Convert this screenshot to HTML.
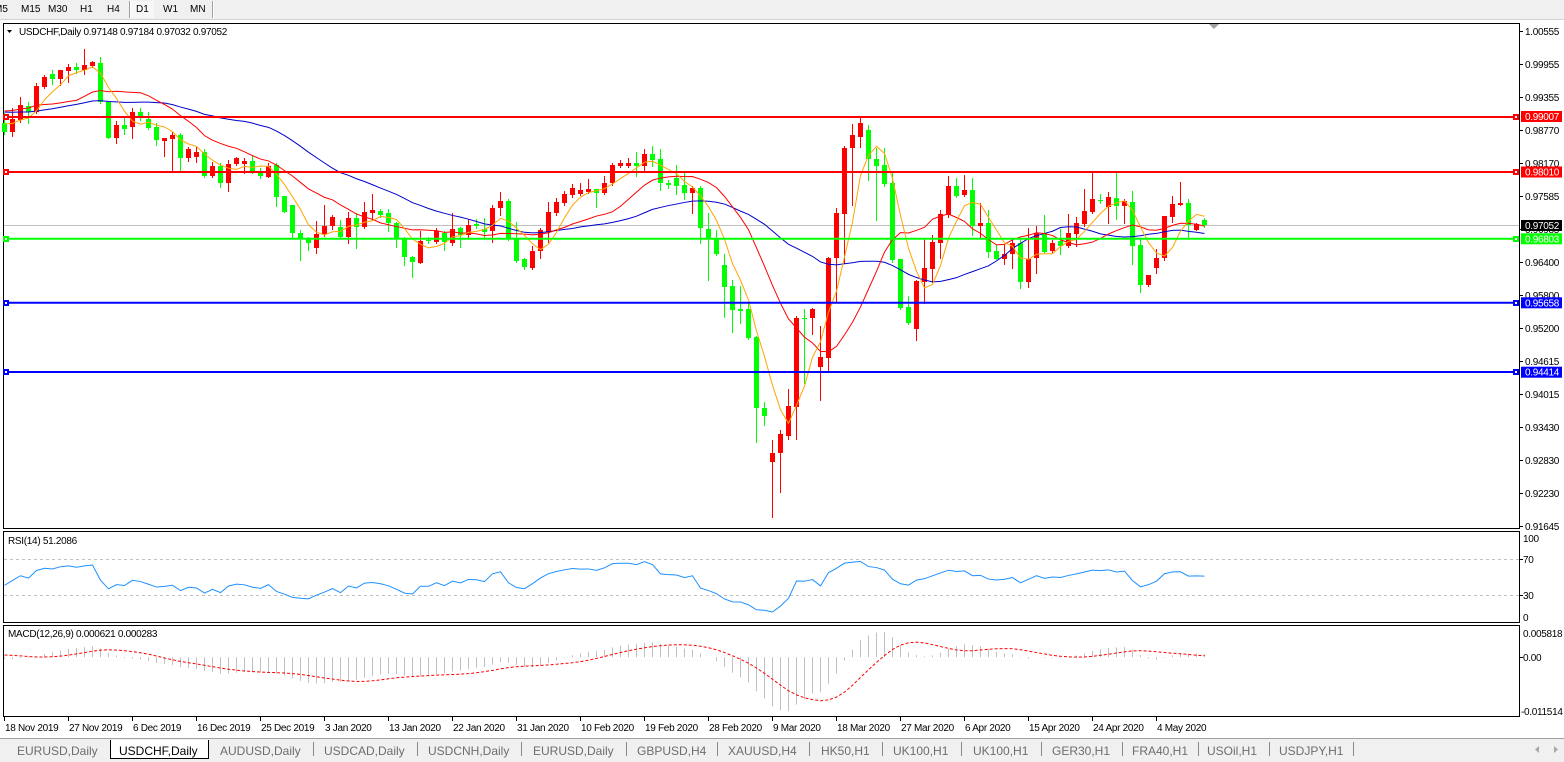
<!DOCTYPE html>
<html><head><meta charset="utf-8">
<style>
html,body{margin:0;padding:0;background:#fff;overflow:hidden;}
svg{display:block;}
text{font-family:"Liberation Sans",Arial,sans-serif;}
.ax{font-size:10px;letter-spacing:-0.3px;fill:#000;}
.tb{font-size:10px;fill:#000;}
.tab{font-size:12px;fill:#6d6d6d;}
</style></head><body>
<svg id="s" width="1564" height="762" viewBox="0 0 1564 762" xmlns="http://www.w3.org/2000/svg">
<rect x="0" y="0" width="1564" height="762" fill="#fff"/>
<!-- toolbar -->
<rect x="0" y="0" width="1564" height="19" fill="#f0f0f0"/>
<line x1="0" y1="19.5" x2="1564" y2="19.5" stroke="#d4d4d4"/>
<rect x="131" y="1" width="23" height="17" fill="#f7f7f7"/>
<line x1="129.5" y1="1" x2="129.5" y2="18" stroke="#a0a0a0"/>
<line x1="130.5" y1="1" x2="130.5" y2="18" stroke="#fff"/>
<line x1="212.5" y1="1" x2="212.5" y2="18" stroke="#a0a0a0"/>
<line x1="213.5" y1="1" x2="213.5" y2="18" stroke="#fff"/>
<text class="tb" x="-6" y="12">M5</text>
<text class="tb" x="21" y="12">M15</text>
<text class="tb" x="48" y="12">M30</text>
<text class="tb" x="80" y="12">H1</text>
<text class="tb" x="107" y="12">H4</text>
<text class="tb" x="136" y="12">D1</text>
<text class="tb" x="163" y="12">W1</text>
<text class="tb" x="190" y="12">MN</text>

<!-- frames -->
<rect x="3.5" y="23.5" width="1516" height="505" fill="#fff" stroke="#000"/>
<rect x="3.5" y="531.5" width="1516" height="91" fill="#fff" stroke="#000"/>
<rect x="3.5" y="625.5" width="1516" height="91" fill="#fff" stroke="#000"/>

<!-- RSI levels -->
<line x1="4" y1="559.5" x2="1519" y2="559.5" stroke="#c0c0c0" stroke-dasharray="3 3"/>
<line x1="4" y1="595.5" x2="1519" y2="595.5" stroke="#c0c0c0" stroke-dasharray="3 3"/>

<!-- current price line -->
<line x1="4" y1="225.5" x2="1519" y2="225.5" stroke="#c0c0c0"/>

<g id="dyn"></g>

<!-- levels -->
<g>
<line x1="4" y1="117" x2="1519" y2="117" stroke="#ff0000" stroke-width="2"/>
<line x1="4" y1="172" x2="1519" y2="172" stroke="#ff0000" stroke-width="2"/>
<line x1="4" y1="238.7" x2="1519" y2="238.7" stroke="#00ff00" stroke-width="2"/>
<line x1="4" y1="302.7" x2="1519" y2="302.7" stroke="#0000ff" stroke-width="2"/>
<line x1="4" y1="372" x2="1519" y2="372" stroke="#0000ff" stroke-width="2"/>
<rect x="3" y="114" width="6" height="6" fill="#ff0000"/><rect x="5" y="116" width="2" height="2" fill="#fff"/>
<rect x="3" y="169" width="6" height="6" fill="#ff0000"/><rect x="5" y="171" width="2" height="2" fill="#fff"/>
<rect x="3" y="236" width="6" height="6" fill="#00ff00"/><rect x="5" y="238" width="2" height="2" fill="#fff"/>
<rect x="3" y="300" width="6" height="6" fill="#0000ff"/><rect x="5" y="302" width="2" height="2" fill="#fff"/>
<rect x="3" y="369" width="6" height="6" fill="#0000ff"/><rect x="5" y="371" width="2" height="2" fill="#fff"/>
<rect x="1513" y="114" width="6" height="6" fill="#ff0000"/><rect x="1515" y="116" width="2" height="2" fill="#fff"/>
<rect x="1513" y="169" width="6" height="6" fill="#ff0000"/><rect x="1515" y="171" width="2" height="2" fill="#fff"/>
<rect x="1513" y="236" width="6" height="6" fill="#00ff00"/><rect x="1515" y="238" width="2" height="2" fill="#fff"/>
<rect x="1513" y="300" width="6" height="6" fill="#0000ff"/><rect x="1515" y="302" width="2" height="2" fill="#fff"/>
<rect x="1513" y="369" width="6" height="6" fill="#0000ff"/><rect x="1515" y="371" width="2" height="2" fill="#fff"/>
</g>

<!-- shift marker -->
<polygon points="1209,24 1219,24 1214,29" fill="#a0a0a0"/>

<!-- title -->
<polygon points="7,30 12,30 9.5,33" fill="#000"/>
<text class="ax" x="19" y="35">USDCHF,Daily  0.97148 0.97184 0.97032 0.97052</text>
<text class="ax" x="8" y="544">RSI(14) 51.2086</text>
<text class="ax" x="8" y="637">MACD(12,26,9) 0.000621 0.000283</text>

<!-- price axis -->
<g stroke="#000">
<line x1="1519" y1="31.5" x2="1523" y2="31.5"/><line x1="1519" y1="64.5" x2="1523" y2="64.5"/>
<line x1="1519" y1="97.5" x2="1523" y2="97.5"/><line x1="1519" y1="130.5" x2="1523" y2="130.5"/>
<line x1="1519" y1="163.5" x2="1523" y2="163.5"/><line x1="1519" y1="196.5" x2="1523" y2="196.5"/>
<line x1="1519" y1="229.5" x2="1523" y2="229.5"/><line x1="1519" y1="262.5" x2="1523" y2="262.5"/>
<line x1="1519" y1="295.5" x2="1523" y2="295.5"/><line x1="1519" y1="328.5" x2="1523" y2="328.5"/>
<line x1="1519" y1="361.5" x2="1523" y2="361.5"/><line x1="1519" y1="394.5" x2="1523" y2="394.5"/>
<line x1="1519" y1="427.5" x2="1523" y2="427.5"/><line x1="1519" y1="460.5" x2="1523" y2="460.5"/>
<line x1="1519" y1="493.5" x2="1523" y2="493.5"/><line x1="1519" y1="526.5" x2="1523" y2="526.5"/>
<line x1="1519" y1="559.5" x2="1523" y2="559.5"/><line x1="1519" y1="595.5" x2="1523" y2="595.5"/>
<line x1="1519" y1="657.5" x2="1523" y2="657.5"/>
</g>
<text class="ax" x="1525" y="35">1.00555</text>
<text class="ax" x="1525" y="68">0.99955</text>
<text class="ax" x="1525" y="101">0.99355</text>
<text class="ax" x="1525" y="134">0.98770</text>
<text class="ax" x="1525" y="167">0.98170</text>
<text class="ax" x="1525" y="200">0.97585</text>
<text class="ax" x="1525" y="233">0.96985</text>
<text class="ax" x="1525" y="266">0.96400</text>
<text class="ax" x="1525" y="299">0.95800</text>
<text class="ax" x="1525" y="332">0.95200</text>
<text class="ax" x="1525" y="365">0.94615</text>
<text class="ax" x="1525" y="398">0.94015</text>
<text class="ax" x="1525" y="431">0.93430</text>
<text class="ax" x="1525" y="464">0.92830</text>
<text class="ax" x="1525" y="497">0.92230</text>
<text class="ax" x="1525" y="530">0.91645</text>

<!-- level labels -->
<rect x="1521" y="111" width="41" height="11" fill="#ff0000"/>
<text class="ax" x="1525" y="120" fill="#fff" style="fill:#fff">0.99007</text>
<rect x="1521" y="166.5" width="41" height="11" fill="#ff0000"/>
<text class="ax" x="1525" y="175.5" style="fill:#fff">0.98010</text>
<rect x="1521" y="220" width="41" height="11" fill="#000"/>
<text class="ax" x="1525" y="229" style="fill:#fff">0.97052</text>
<rect x="1521" y="233.3" width="41" height="11" fill="#00ff00"/>
<text class="ax" x="1525" y="242.3" style="fill:#fff">0.96803</text>
<rect x="1521" y="297.3" width="41" height="11" fill="#0000ff"/>
<text class="ax" x="1525" y="306.3" style="fill:#fff">0.95658</text>
<rect x="1521" y="366.7" width="41" height="11" fill="#0000ff"/>
<text class="ax" x="1525" y="375.7" style="fill:#fff">0.94414</text>

<!-- RSI / MACD axis -->
<text class="ax" x="1523" y="542">100</text>
<text class="ax" x="1523" y="563">70</text>
<text class="ax" x="1523" y="599">30</text>
<text class="ax" x="1523" y="621">0</text>
<text class="ax" x="1523" y="637">0.005818</text>
<text class="ax" x="1523" y="661">0.00</text>
<text class="ax" x="1521" y="715">-0.011514</text>

<!-- time axis -->
<g stroke="#000">
<line x1="4.5" y1="717" x2="4.5" y2="721"/><line x1="68.5" y1="717" x2="68.5" y2="721"/>
<line x1="132.5" y1="717" x2="132.5" y2="721"/><line x1="196.5" y1="717" x2="196.5" y2="721"/>
<line x1="260.5" y1="717" x2="260.5" y2="721"/><line x1="324.5" y1="717" x2="324.5" y2="721"/>
<line x1="388.5" y1="717" x2="388.5" y2="721"/><line x1="452.5" y1="717" x2="452.5" y2="721"/>
<line x1="516.5" y1="717" x2="516.5" y2="721"/><line x1="580.5" y1="717" x2="580.5" y2="721"/>
<line x1="644.5" y1="717" x2="644.5" y2="721"/><line x1="708.5" y1="717" x2="708.5" y2="721"/>
<line x1="772.5" y1="717" x2="772.5" y2="721"/><line x1="836.5" y1="717" x2="836.5" y2="721"/>
<line x1="900.5" y1="717" x2="900.5" y2="721"/><line x1="964.5" y1="717" x2="964.5" y2="721"/>
<line x1="1028.5" y1="717" x2="1028.5" y2="721"/><line x1="1092.5" y1="717" x2="1092.5" y2="721"/>
<line x1="1156.5" y1="717" x2="1156.5" y2="721"/>
</g>
<g class="ax">
<text class="ax" x="5" y="731">18 Nov 2019</text>
<text class="ax" x="69" y="731">27 Nov 2019</text>
<text class="ax" x="133" y="731">6 Dec 2019</text>
<text class="ax" x="197" y="731">16 Dec 2019</text>
<text class="ax" x="261" y="731">25 Dec 2019</text>
<text class="ax" x="325" y="731">3 Jan 2020</text>
<text class="ax" x="389" y="731">13 Jan 2020</text>
<text class="ax" x="453" y="731">22 Jan 2020</text>
<text class="ax" x="517" y="731">31 Jan 2020</text>
<text class="ax" x="581" y="731">10 Feb 2020</text>
<text class="ax" x="645" y="731">19 Feb 2020</text>
<text class="ax" x="709" y="731">28 Feb 2020</text>
<text class="ax" x="773" y="731">9 Mar 2020</text>
<text class="ax" x="837" y="731">18 Mar 2020</text>
<text class="ax" x="901" y="731">27 Mar 2020</text>
<text class="ax" x="965" y="731">6 Apr 2020</text>
<text class="ax" x="1029" y="731">15 Apr 2020</text>
<text class="ax" x="1093" y="731">24 Apr 2020</text>
<text class="ax" x="1157" y="731">4 May 2020</text>
</g>

<!-- tabs -->
<rect x="0" y="738" width="1564" height="24" fill="#f0f0f0"/>
<line x1="0" y1="738.5" x2="1564" y2="738.5" stroke="#a0a0a0"/>
<rect x="110" y="740" width="99" height="19" fill="#fff"/>
<path d="M110.5 740 V758.5 H208.5 V740" fill="none" stroke="#000"/>
<g stroke="#8a8a8a">
<line x1="313.5" y1="742" x2="313.5" y2="756"/><line x1="417.5" y1="742" x2="417.5" y2="756"/>
<line x1="521.5" y1="742" x2="521.5" y2="756"/><line x1="626.5" y1="742" x2="626.5" y2="756"/>
<line x1="717.5" y1="742" x2="717.5" y2="756"/><line x1="809.5" y1="742" x2="809.5" y2="756"/>
<line x1="882.5" y1="742" x2="882.5" y2="756"/><line x1="961.5" y1="742" x2="961.5" y2="756"/>
<line x1="1041.5" y1="742" x2="1041.5" y2="756"/><line x1="1122.5" y1="742" x2="1122.5" y2="756"/>
<line x1="1198.5" y1="742" x2="1198.5" y2="756"/><line x1="1269.5" y1="742" x2="1269.5" y2="756"/>
<line x1="1353.5" y1="742" x2="1353.5" y2="756"/>
</g>
<text class="tab" x="17" y="755">EURUSD,Daily</text>
<text class="tab" x="119" y="755" style="fill:#000">USDCHF,Daily</text>
<text class="tab" x="220" y="755">AUDUSD,Daily</text>
<text class="tab" x="324" y="755">USDCAD,Daily</text>
<text class="tab" x="428" y="755">USDCNH,Daily</text>
<text class="tab" x="533" y="755">EURUSD,Daily</text>
<text class="tab" x="637" y="755">GBPUSD,H4</text>
<text class="tab" x="728" y="755">XAUUSD,H4</text>
<text class="tab" x="821" y="755">HK50,H1</text>
<text class="tab" x="893" y="755">UK100,H1</text>
<text class="tab" x="973" y="755">UK100,H1</text>
<text class="tab" x="1052" y="755">GER30,H1</text>
<text class="tab" x="1132" y="755">FRA40,H1</text>
<text class="tab" x="1207" y="755">USOil,H1</text>
<text class="tab" x="1279" y="755">USDJPY,H1</text>
<polygon points="1539,746 1539,753 1535,749.5" fill="#a8a8a8"/>
<polygon points="1554,746 1554,753 1558,749.5" fill="#a8a8a8"/>
</svg>
<script>
(function(){
var D=[[123,132,113,134],[132,119,108,136],[120,105,97,122],[106,112,102,123],[112,86,83,113],[87,77,75,88],[74,79,70,84],[79,70,70,85],[71,67,64,82],[67,70,63,73],
[70,65,49,74],[66,62,61,67],[63,102,57,103],[102,138,102,138],[138,125,121,143],[125,129,117,134],[127,112,108,138],[112,117,108,120],[119,128,112,129],[127,140,123,145],
[141,138,138,156],[139,135,132,170],[135,158,133,171],[158,149,147,161],[157,152,147,162],[152,176,149,177],[176,166,162,177],[166,183,163,187],[183,164,160,191],[164,158,157,165],
[164,161,158,173],[161,171,156,173],[173,176,168,178],[177,166,163,177],[165,197,163,206],[196,212,196,212],[205,233,205,237],[233,239,230,260],[239,243,237,250],[248,234,221,253],
[234,226,205,236],[226,217,215,229],[227,237,220,238],[237,218,212,243],[218,227,213,248],[227,212,202,228],[213,210,194,220],[211,215,209,217],[213,223,209,231],[223,238,222,247],
[238,257,237,265],[257,262,256,277],[263,241,231,263],[240,241,237,243],[242,231,228,243],[233,242,231,250],[243,229,213,245],[228,235,227,247],[235,225,219,237],[224,226,219,228],
[229,232,218,237],[231,208,205,242],[208,201,192,215],[201,239,199,240],[239,261,222,262],[259,267,258,269],[268,251,246,269],[251,230,228,258],[232,212,202,242],[213,202,198,215],
[203,194,191,205],[195,188,184,197],[194,190,183,195],[192,189,179,193],[189,193,189,207],[193,183,176,194],[183,165,163,185],[166,163,160,167],[166,163,158,167],[163,166,152,176],
[166,154,149,170],[154,160,146,166],[159,183,149,190],[183,185,180,188],[178,186,165,194],[185,193,172,199],[193,188,186,213],[188,228,186,243],[229,239,213,280],[239,254,230,255],
[265,287,254,317],[286,310,280,332],[309,311,286,323],[309,338,302,339],[337,408,336,442],[408,416,402,425],[462,453,440,517],[453,434,430,492],[436,406,389,439],[407,318,316,439],
[318,319,309,383],[318,309,308,334],[367,357,326,400],[358,258,257,370],[258,213,208,302],[214,148,146,263],[148,135,124,205],[137,123,117,147],[130,159,125,180],[159,166,148,220],
[165,184,148,186],[183,260,173,262],[259,308,259,309],[307,323,296,324],[329,281,280,340],[282,268,238,303],[269,242,235,282],[243,214,210,258],[215,186,176,217],[186,196,178,197],
[195,190,175,196],[190,226,178,235],[226,223,203,237],[223,252,210,257],[251,259,245,259],[259,254,245,264],[254,243,238,268],[243,282,238,288],[282,259,228,287],[258,233,226,273],
[233,252,215,253],[251,243,240,252],[241,246,229,254],[246,233,214,247],[234,223,217,246],[224,211,189,226],[212,199,172,213],[200,201,194,203],[207,197,192,223],[198,206,173,219],
[206,201,199,223],[202,246,191,264],[245,285,239,292],[285,275,275,286],[268,258,249,273],[258,216,216,260],[217,204,196,222],[205,203,182,205],[203,225,199,238],[230,224,223,230],
[220,225,218,227]];
var N=D.length,i,k,s='';
var C=D.map(function(d){return d[1];});
var H=[];for(k=0;k<16;k++)H.push(113);for(k=0;k<4;k++)H.push(126);for(k=0;k<5;k++)H.push(86);for(k=0;k<4;k++)H.push(122);
var A=H.concat(C),off=H.length;
function X(i){return 8*i+4.5;}
// candles
var red='',grn='';
for(i=0;i<N;i++){var o=D[i][0],c=D[i][1],h=D[i][2],l=D[i][3];
 var up=c<o;var t=Math.min(o,c),b=Math.max(o,c);var bh=Math.max(1,b-t);
 var r='<rect x="'+(8*i+4)+'" y="'+h+'" width="1" height="'+(l-h+1)+'"/><rect x="'+(8*i+2)+'" y="'+t+'" width="5" height="'+bh+'"/>';
 if(up)red+=r;else grn+=r;}
s+='<g fill="#ff0000" shape-rendering="crispEdges">'+red+'</g><g fill="#00ff00" shape-rendering="crispEdges">'+grn+'</g>';
function sma(n){var r=[];for(var i=0;i<N;i++){var t=0;for(var k=0;k<n;k++)t+=A[off+i-k];r.push(t/n);}return r;}
function pl(arr,col,extra){var p='';for(var i=0;i<arr.length;i++)p+=(i?'L':'M')+X(i)+' '+arr[i].toFixed(2);return '<path d="'+p+'" fill="none" stroke="'+col+'" stroke-width="1" '+(extra||'')+'/>';}
s+=pl(sma(30),'#0000cd')+pl(sma(14),'#ff0000')+pl(sma(5),'#ffa500');
// RSI
var ag=4,al=5.75,R=[100*ag/(ag+al)];
for(i=1;i<N;i++){var d=C[i-1]-C[i];ag=(ag*13+Math.max(d,0))/14;al=(al*13+Math.max(-d,0))/14;R.push(100*ag/(ag+al));}
s+=pl(R.map(function(v){return 622.3-0.9*v;}),'#1e90ff');
// MACD
var P=A.map(function(v){return -v;}),e12=P[0],e26=P[0],M=[];
for(var j=0;j<A.length;j++){if(j>0){e12+=(P[j]-e12)*2/13;e26+=(P[j]-e26)*2/27;}M.push(e12-e26);}
var S=[];for(j=0;j<M.length;j++){var t=0,n=0;for(k=Math.max(0,j-8);k<=j;k++){t+=M[k];n++;}S.push(t/n);}
var Mv=M.slice(off),Sv=S.slice(off);
var vmax=Math.max.apply(null,Mv.concat(Sv)),vmin=Math.min.apply(null,Mv.concat(Sv));
function my(v){return 632+(vmax-v)/(vmax-vmin)*79;}
var z=my(0),hs='';
for(i=0;i<N;i++){hs+='M'+X(i)+' '+z.toFixed(2)+'V'+my(Mv[i]).toFixed(2);}
s+='<path d="'+hs+'" stroke="#c0c0c0" stroke-width="1" fill="none"/>';
s+=pl(Sv.map(my),'#ff0000','stroke-dasharray="3 2"');
document.getElementById('dyn').innerHTML=s;
})();
</script>
</body></html>
